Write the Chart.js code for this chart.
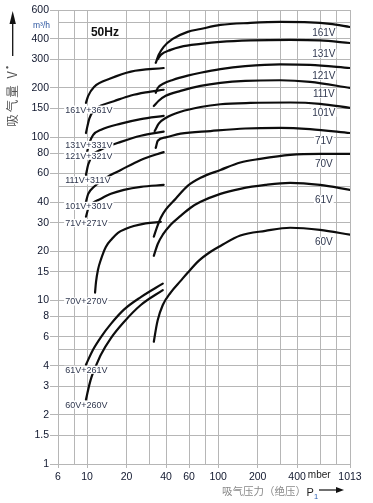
<!DOCTYPE html>
<html>
<head>
<meta charset="utf-8">
<script src="https://cdn.jsdelivr.net/npm/chart.js@4/dist/chart.umd.min.js"></script>
<style>
  body { margin: 0; background: #fff; }
  canvas { display: block; }
</style>
</head>
<body>
<canvas id="chart" width="373" height="503"></canvas>
<script>
// [pressure p1 mbar, pumping speed m3/h]

// low pressure part: pump + booster
var c161V_361V = [[9.8,162],[10.2,179],[11.3,203],[15.2,229],[21.6,252],[38.4,265]];
var c131V_331V = [[9.8,106],[10.4,130],[11.3,146],[12.8,156],[16,166],[21.6,180],[28,188],[38.4,195]];
var c121V_321V = [[10,81],[10.4,92],[11.1,103],[12.8,111],[18.1,121],[25.7,129],[38.4,135]];
var c111V_311V = [[9.8,58.8],[10.2,68],[11.1,78],[12.8,84],[18.1,93.6],[25.7,102],[38.4,108]];
var c101V_301V = [[9.8,40.2],[10.2,45],[11.3,49.7],[13.9,56.4],[18.1,63],[25.7,72.6],[38.4,81]];
var c71V_271V = [[9.8,32.6],[10.2,36.4],[11.1,39.6],[12.3,41.4],[15.2,45],[19.1,47.6],[25.7,49.7],[38.4,51]];
var c70V_270V = [[11.5,11.2],[11.7,13],[12.1,15.4],[12.8,18],[13.9,21.3],[15.5,23.9],[17.2,26],[19.8,27.5],[22.7,28.6],[28,29.7],[36.5,30.3]];
var c61V_261V = [[9.8,4.05],[11.1,5.0],[12.8,6.0],[15.2,7.2],[19.1,8.8],[25.7,10.5],[37.8,12.7]];
var c60V_260V = [[9.8,2.47],[10.4,3.05],[10.9,3.47],[11.7,4.0],[12.8,4.7],[15.2,5.9],[19.1,7.4],[25.7,9.4],[37.8,11.6]];

// single pumps
var c161V = [[33.4,285],[35.2,319],[38.4,357],[45,399],[58.5,441],[73.4,459],[104,486],[176,500],[297,507],[502,504],[713,493],[1013,472]];
var c131V = [[34.6,300],[36.5,319],[43.4,342],[51.7,357],[73.4,372],[104,383],[176,391],[354,394],[598,391],[1013,377]];
var c121V = [[33.4,187],[34.6,200],[38.4,213],[45,224],[58.5,238],[73.4,248],[104,261],[161,272],[297,279],[502,277],[1013,265]];
var c111V = [[32.3,155],[35.2,167],[39.8,179],[51.7,192],[73.4,206],[104,215],[161,221],[297,223],[502,218],[1013,200]];
var c101V = [[32.8,109],[35.2,121],[39.8,131],[51.7,143],[73.4,153],[104,159],[176,162],[354,163],[598,160],[1013,151]];
var c71V = [[33.4,86],[34.6,95],[39.8,99.7],[51.7,105],[87.5,109],[161,113],[297,114],[502,112],[1013,106]];
var c70V = [[32.3,24.6],[34,27.9],[36.5,32.1],[39.8,36],[47.4,42],[58.5,50.3],[73.4,56.4],[104,63],[147.6,70],[209,73.7],[354,78],[598,79.1],[1013,79.1]];
var c61V = [[32.3,18.8],[34.6,22.2],[37.8,25.3],[43.4,29.1],[51.7,33],[61.6,37],[73.4,40.2],[104,45],[147.6,48.3],[229,51],[354,52.5],[598,51],[1013,47.6]];
var c60V = [[32.3,5.6],[33.4,6.6],[34.6,7.6],[37.8,9.4],[43.4,11.2],[51.7,13.2],[58.5,14.8],[71,17.5],[87.5,19.9],[104,21.6],[147.6,25],[229,26.7],[354,27.9],[598,27.1],[1013,25.3]];

var curves = [c161V_361V, c131V_331V, c121V_321V, c111V_311V, c101V_301V, c71V_271V, c70V_270V, c61V_261V, c60V_260V,
  c161V, c131V, c121V, c111V, c101V, c71V, c70V, c61V, c60V];

var leftNames = ['161V+361V', '131V+331V', '121V+321V', '111V+311V', '101V+301V', '71V+271V', '70V+270V', '61V+261V', '60V+260V'];
var rightNames = ['161V', '131V', '121V', '111V', '101V', '71V', '70V', '61V', '60V'];

var pTicks = [6, 8, 10, 20, 30, 40, 60, 80, 100, 200, 300, 400, 600, 800, 1013];
var pLabels = ['6', '', '10', '20', '', '40', '60', '', '100', '200', '', '400', '', '', '1013'];
var vTicks = [1, 1.5, 2, 3, 4, 5, 6, 8, 10, 15, 20, 30, 40, 50, 60, 80, 100, 150, 200, 300, 400, 500, 600];
var vLabels = ['1', '1.5', '2', '3', '4', '', '6', '8', '10', '15', '20', '30', '40', '', '60', '80', '100', '150', '200', '300', '400', '', '600'];

// where the curve names sit (flow value of the text centre)
var leftNameAt = [147.5, 89.7, 76.9, 54.4, 38, 29.8, 9.87, 3.77, 2.31];
var rightNameAt = [434, 326, 239, 185, 142, 95, 68.7, 41.4, 22.9];

var sans = '"Liberation Sans", Arial, sans-serif';
var cjk = '"Noto Sans CJK SC", sans-serif';
var gridGrey = '#b6b6b6';

var annotate = {
  id: 'annotate',
  afterDatasetsDraw: function(chart) {
    var ctx = chart.ctx, xs = chart.scales.x, ys = chart.scales.y, area = chart.chartArea;
    ctx.save();

    function tag(text, x, y, size, align) {
      ctx.font = size + 'px ' + sans;
      var w = ctx.measureText(text).width;
      var left = align === 'center' ? x - w / 2 : x;
      ctx.fillStyle = '#fff';
      ctx.fillRect(left - 1, y - size * 0.45, w + 2, size * 0.9);
      ctx.fillStyle = '#30384f';
      ctx.textAlign = 'left';
      ctx.textBaseline = 'middle';
      ctx.fillText(text, left, y + 0.5);
    }

    leftNames.forEach(function(n, i) {
      tag(n, xs.getPixelForValue(6.8), ys.getPixelForValue(leftNameAt[i]), 9, 'left');
    });
    rightNames.forEach(function(n, i) {
      tag(n, xs.getPixelForValue(640), ys.getPixelForValue(rightNameAt[i]), 10, 'center');
    });

    // 50Hz
    ctx.font = 'bold 12px ' + sans;
    ctx.fillStyle = '#111';
    ctx.textAlign = 'left';
    ctx.textBaseline = 'middle';
    ctx.fillText('50Hz', xs.getPixelForValue(10.7), ys.getPixelForValue(437));

    // unit under 600
    ctx.font = '8.5px ' + sans;
    ctx.fillStyle = '#2c56a0';
    ctx.textAlign = 'right';
    ctx.fillText('m³/h', area.left - 8, ys.getPixelForValue(480));

    // mber between 400 and 1013
    ctx.font = '10px ' + sans;
    ctx.fillStyle = '#222';
    ctx.textAlign = 'center';
    ctx.textBaseline = 'alphabetic';
    ctx.fillText('mber', xs.getPixelForValue(590), area.bottom + 13.5);

    // y title with arrow
    ctx.save();
    ctx.translate(12.5, 98);
    ctx.rotate(-Math.PI / 2);
    ctx.font = '12.5px ' + cjk;
    ctx.letterSpacing = '2px';
    ctx.fillStyle = '#555';
    ctx.textAlign = 'center';
    ctx.textBaseline = 'middle';
    ctx.fillText('吸气量 V\u0307', 0, 0);
    ctx.restore();

    ctx.strokeStyle = '#111';
    ctx.fillStyle = '#111';
    ctx.lineWidth = 1.3;
    ctx.beginPath();
    ctx.moveTo(12.7, 56);
    ctx.lineTo(12.7, 20);
    ctx.stroke();
    ctx.beginPath();
    ctx.moveTo(12.7, 11);
    ctx.lineTo(9.5, 24);
    ctx.lineTo(15.9, 24);
    ctx.closePath();
    ctx.fill();

    // x title with arrow
    ctx.font = '10.5px ' + cjk;
    ctx.fillStyle = '#8a8a8a';
    ctx.textAlign = 'left';
    ctx.textBaseline = 'alphabetic';
    ctx.fillText('吸气压力（绝压）', 222, 495);
    ctx.font = '11px ' + sans;
    ctx.fillStyle = '#222';
    ctx.fillText('P', 306.5, 496);
    ctx.font = '7.5px ' + sans;
    ctx.fillStyle = '#2a5db0';
    ctx.fillText('1', 314, 498.5);
    ctx.strokeStyle = '#111';
    ctx.fillStyle = '#111';
    ctx.lineWidth = 1.2;
    ctx.beginPath();
    ctx.moveTo(319, 490);
    ctx.lineTo(338, 490);
    ctx.stroke();
    ctx.beginPath();
    ctx.moveTo(344, 490);
    ctx.lineTo(336, 487);
    ctx.lineTo(336, 493);
    ctx.closePath();
    ctx.fill();

    ctx.restore();
  }
};

Chart.defaults.font.family = sans;

new Chart(document.getElementById('chart').getContext('2d'), {
  type: 'line',
  data: {
    datasets: curves.map(function(c) {
      return {
        data: c.map(function(pt) { return {x: pt[0], y: pt[1]}; }),
        borderColor: '#0d0d0d',
        borderWidth: 2.2,
        borderCapStyle: 'round',
        pointRadius: 0,
        cubicInterpolationMode: 'monotone',
        fill: false,
      };
    }),
  },
  options: {
    responsive: false,
    animation: false,
    layout: {padding: {top: 10, right: 23, left: 0, bottom: 0}},
    plugins: {legend: {display: false}, tooltip: {enabled: false}},
    scales: {
      x: {
        type: 'logarithmic',
        min: 6,
        max: 1013,
        afterBuildTicks: function(s) { s.ticks = pTicks.map(function(v) { return {value: v}; }); },
        afterFit: function(s) { s.height = 39; },
        ticks: {
          autoSkip: false,
          maxRotation: 0,
          padding: 3,
          color: '#10172e',
          font: {size: 10.5},
          callback: function(v, i) { return pLabels[i]; },
        },
        grid: {
          color: gridGrey,
          lineWidth: 1,
          tickLength: 4,
          tickColor: function(c) { return pLabels[c.index] ? gridGrey : 'rgba(0,0,0,0)'; },
        },
        border: {color: gridGrey},
      },
      y: {
        type: 'logarithmic',
        min: 1,
        max: 600,
        afterBuildTicks: function(s) { s.ticks = vTicks.map(function(v) { return {value: v}; }); },
        afterFit: function(s) { s.width = 58; },
        ticks: {
          autoSkip: false,
          padding: 1,
          color: '#10172e',
          font: {size: 10.5},
          callback: function(v, i) { return vLabels[i]; },
        },
        grid: {
          color: gridGrey,
          lineWidth: 1,
          tickLength: 8,
          tickColor: function(c) { return vLabels[c.index] ? gridGrey : 'rgba(0,0,0,0)'; },
        },
        border: {color: gridGrey},
      },
    },
  },
  plugins: [annotate],
});
</script>
</body>
</html>
